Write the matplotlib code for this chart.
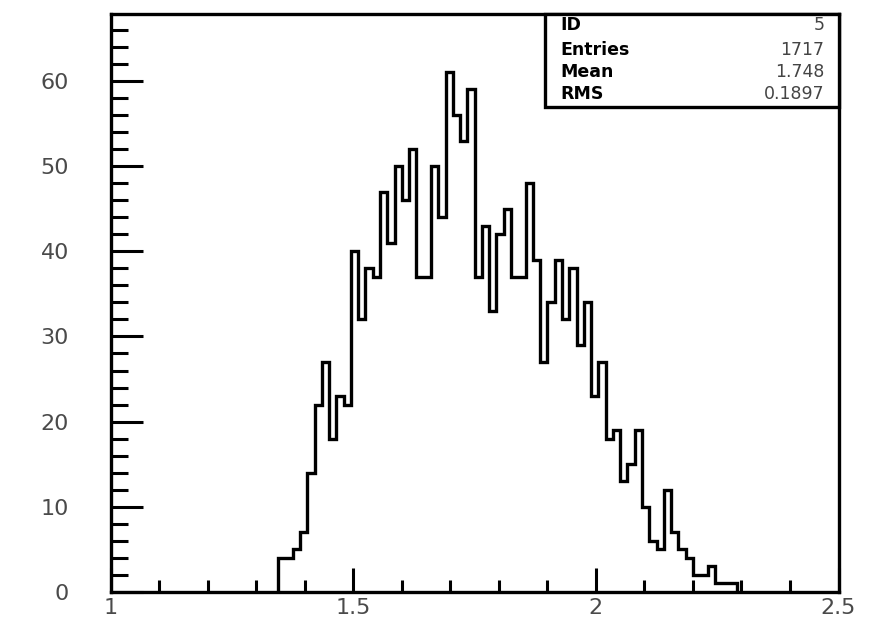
import numpy as np
import matplotlib
matplotlib.use("Agg")
import matplotlib.pyplot as plt
from matplotlib.patches import Rectangle
from matplotlib.ticker import MultipleLocator

# histogram: 100 bins on [1, 2.5], only bins 23..85 are filled
x_lo, x_hi = 1.0, 2.5
bin_w = 0.015
first_bin = 23
counts = [4, 4, 5, 7, 14, 22, 27, 18, 23, 22,
          40, 32, 38, 37, 47, 41, 50, 46, 52, 37,
          37, 50, 44, 61, 56, 53, 59, 37, 43, 33,
          42, 45, 37, 37, 48, 39, 27, 34, 39, 32,
          38, 29, 34, 23, 27, 18, 19, 13, 15, 19,
          10, 6, 5, 12, 7, 5, 4, 2, 2, 3,
          1, 1, 1]

stat_names = ["ID", "Entries", "Mean", "RMS"]
stat_values = ["5", "1717", "1.748", "0.1897"]

y_max = 67.8

fig = plt.figure(figsize=(8.74, 6.38), dpi=100)
ax = fig.add_axes([0.1267, 0.0721, 0.8327, 0.9052])

edges = x_lo + bin_w * (first_bin + np.arange(len(counts) + 1))
ax.stairs(counts, edges, color="black", lw=2.4, baseline=0)

ax.set_xlim(x_lo, x_hi)
ax.set_ylim(0, y_max)

for s in ax.spines.values():
    s.set_linewidth(2.4)

ax.xaxis.set_major_locator(MultipleLocator(0.5))
ax.xaxis.set_minor_locator(MultipleLocator(0.1))
ax.yaxis.set_major_locator(MultipleLocator(10))
ax.yaxis.set_minor_locator(MultipleLocator(2))
ax.xaxis.set_major_formatter(plt.FuncFormatter(lambda v, p: f"{v:g}"))

lab_col = "#4a4a4a"
ax.tick_params(axis="x", which="major", direction="in", length=17, width=2.2,
               pad=4, labelsize=16, labelcolor=lab_col)
ax.tick_params(axis="x", which="minor", direction="in", length=8.6, width=2.2)
ax.tick_params(axis="y", which="major", direction="in", length=23, width=2.2,
               pad=30, labelsize=16, labelcolor=lab_col)
ax.tick_params(axis="y", which="minor", direction="in", length=12, width=2.2)

# stats box in the top right corner
box = Rectangle((0.5967, 0.8398), 0.4033, 0.1602, transform=ax.transAxes,
                facecolor="white", edgecolor="black", lw=2.4, zorder=5,
                clip_on=False)
ax.add_patch(box)
rows_y = [0.981, 0.938, 0.900, 0.862]
for name, val, yy in zip(stat_names, stat_values, rows_y):
    ax.text(0.6173, yy, name, transform=ax.transAxes, ha="left", va="center",
            fontsize=12.5, fontweight="bold", color="black", zorder=6)
    ax.text(0.9804, yy, val, transform=ax.transAxes, ha="right", va="center",
            fontsize=12.5, color="#444444", zorder=6)

fig.savefig("out.png", dpi=100)
